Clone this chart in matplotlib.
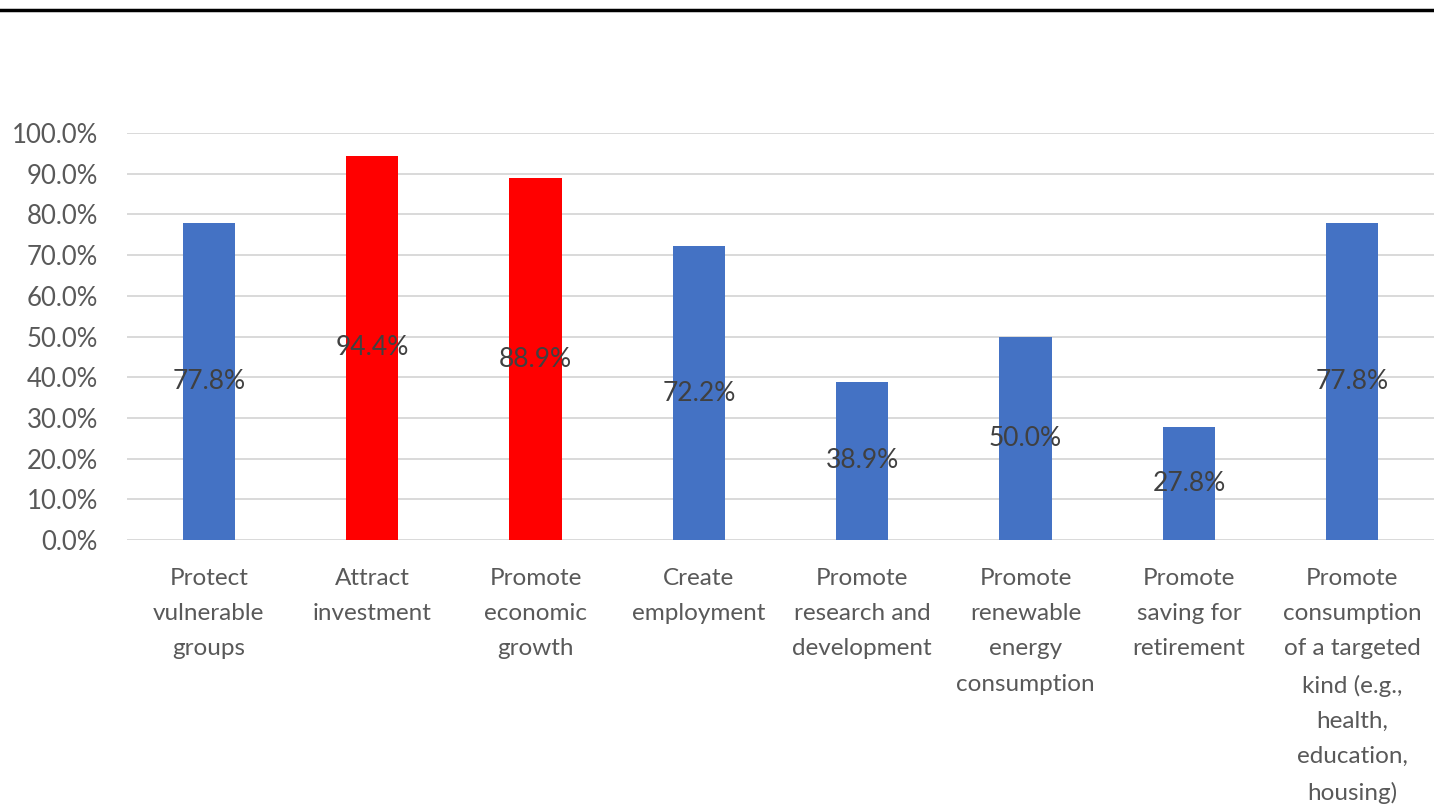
#!/usr/bin/env python3
# Bar chart of policy objectives (share of respondents)

import matplotlib.pyplot as plt
from matplotlib.lines import Line2D
import numpy as np

plt.rcParams['font.family'] = ['Lato', 'DejaVu Sans']

categories = ['Protect\nvulnerable\ngroups', 'Attract\ninvestment', 'Promote\neconomic\ngrowth',
              'Create\nemployment', 'Promote\nresearch and\ndevelopment',
              'Promote\nrenewable\nenergy\nconsumption', 'Promote\nsaving for\nretirement',
              'Promote\nconsumption\nof a targeted\nkind (e.g.,\nhealth,\neducation,\nhousing)']
values = [77.8, 94.4, 88.9, 72.2, 38.9, 50.0, 27.8, 77.8]
highlight = [False, True, True, False, False, False, False, False]

blue = '#4472C4'
red = '#FF0000'
txt = '#595959'

fig = plt.figure(figsize=(14.34, 8.07), dpi=100)
ax = fig.add_axes([127/1434, 1 - 540/807, (1434-127)/1434, 407/807])

x = np.arange(len(categories))
colors = [red if h else blue for h in highlight]
bars = ax.bar(x, values, width=0.32, color=colors, zorder=3)

for b, v in zip(bars, values):
    ax.text(b.get_x() + b.get_width()/2, v/2, '{:.1f}%'.format(v),
            ha='center', va='center', fontsize=19, color='#404040', zorder=4)

ax.set_xlim(-0.5, len(categories) - 0.5)
ax.set_ylim(0, 100)
ax.set_yticks(np.arange(0, 101, 10))
ax.set_yticklabels(['{:.1f}%'.format(t) for t in np.arange(0, 101, 10)])
ax.set_xticks(x)
ax.set_xticklabels(categories, linespacing=1.84)
ax.tick_params(axis='y', length=0, pad=21, labelsize=18.5, labelcolor=txt)
ax.tick_params(axis='x', length=0, pad=20, labelsize=17.5, labelcolor=txt)
for lbl in ax.get_xticklabels():
    lbl.set_verticalalignment('top')
    lbl.set_multialignment('center')

ax.grid(axis='y', color='#D9D9D9', linewidth=1.4, zorder=0)
for s in ax.spines.values():
    s.set_visible(False)

# black rule at the top of the figure
fig.add_artist(Line2D([0, 1], [1 - 10/807, 1 - 10/807], color='black', linewidth=2.5,
                      transform=fig.transFigure))

plt.savefig('out.png', dpi=100)
